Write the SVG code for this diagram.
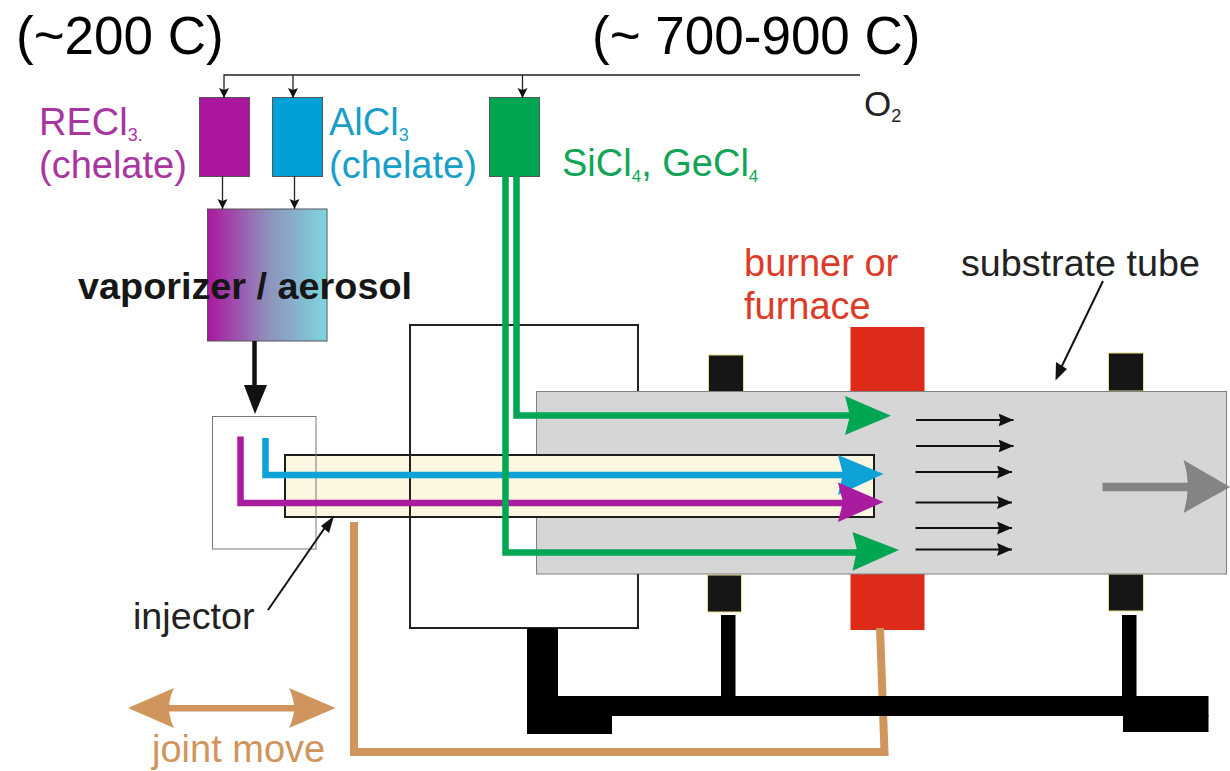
<svg xmlns="http://www.w3.org/2000/svg" width="1230" height="771" viewBox="0 0 1230 771">
<style>
text{font-family:"Liberation Sans",Arial,sans-serif}
.thin{fill:none;stroke:#222;stroke-width:1.3}
.flow{fill:none;stroke:#111;stroke-width:1.8}
.sq{fill:#161616;stroke:#e8e08a;stroke-width:1}
.blk{fill:#000}
.pipe{fill:none;stroke-width:6.5;stroke-linejoin:miter}
.green{stroke:#00a651}.gf{fill:#00a651}
.blue{stroke:#0ea2d6}.bf{fill:#0ea2d6}
.purple{stroke:#a91b9f}.pf{fill:#a91b9f}
.tan{stroke:#cf955c}
.red{fill:#de2a18}
</style>
<defs>
<linearGradient id="g"><stop offset="0" stop-color="#ab169f"/><stop offset=".5" stop-color="#8e90bb"/><stop offset="1" stop-color="#7dd6df"/></linearGradient>
<marker id="a" markerUnits="userSpaceOnUse" markerWidth="12" markerHeight="12" refX="10" refY="5" orient="auto"><path d="M0 0L10 5L0 10L2 5Z" fill="#111"/></marker>
<marker id="f" markerUnits="userSpaceOnUse" markerWidth="16" markerHeight="14" refX="15" refY="6.5" orient="auto"><path d="M0 0L15 6.5L0 13L2 6.5Z" fill="#111"/></marker>
</defs>
<g id="furnace"><rect class="red" x="850.5" y="327" width="74" height="65"/><rect class="red" x="850.5" y="573" width="74" height="57"/></g>
<g id="supports">
<rect class="sq" x="708.500" y="355" width="35" height="37"/><rect class="sq" x="707.500" y="575" width="34" height="37"/>
<rect class="sq" x="1108.500" y="353" width="35" height="38"/><rect class="sq" x="1108.500" y="574" width="35" height="37"/>
</g>
<g id="tube"><rect x="536.500" y="391.500" width="690" height="182.500" fill="#d6d6d6" stroke="#808080" stroke-width="1"/></g>
<g id="injector"><rect x="285" y="455" width="589" height="62" fill="#fdf6e0" stroke="#1d1d1b" stroke-width="2"/></g>
<g id="injector-box"><rect x="212.500" y="416.500" width="103.500" height="132.500" fill="none" stroke="#777" stroke-width="1"/></g>
<g id="chamber"><path d="M536 628H410V325H638V391M638 574V628H536" fill="none" stroke="#222" stroke-width="2"/></g>
<g id="stage" class="blk">
<path class="tan" d="M880 628L884.500 752H354V522" fill="none" stroke-width="8"/>
<rect x="527" y="628" width="31" height="90"/><rect x="558" y="696" width="650.500" height="20"/>
<rect x="527" y="716" width="85" height="18"/><rect x="1123" y="715" width="85.500" height="17"/>
<rect x="721" y="615" width="14.500" height="82"/><rect x="1122" y="615" width="14.500" height="82"/>
</g>
<g id="source-re"><rect x="199.500" y="97.500" width="50" height="79" fill="#ab169f" stroke="#555" stroke-width="1"/></g>
<g id="source-al"><rect x="272.500" y="97.500" width="50" height="79" fill="#00a1d8" stroke="#555" stroke-width="1"/></g>
<g id="source-si"><rect x="489.500" y="97.500" width="50" height="79" fill="#00a651" stroke="#555" stroke-width="1"/></g>
<g id="vaporizer"><rect x="207.500" y="209" width="119.500" height="132" fill="url(#g)" stroke="#555" stroke-width="1"/>
<text x="78" y="298.500" font-size="37.800" font-weight="700" fill="#161616">vaporizer / aerosol</text></g>
<g id="connectors">
<path d="M860 75H224V98" class="thin" marker-end="url(#a)"/>
<path d="M293 75V98" class="thin" marker-end="url(#a)"/>
<path d="M522.500 75V98" class="thin" marker-end="url(#a)"/>
<path d="M222.500 176V209" class="thin" marker-end="url(#a)"/>
<path d="M294.500 176V209" class="thin" marker-end="url(#a)"/>
<path d="M254.500 341V392" fill="none" stroke="#111" stroke-width="4.500"/><path d="M244 385H267L255 414Z" fill="#111"/>
<path d="M265.500 438V475H845" class="pipe blue"/><path class="bf" d="M838 455L883.500 474L838 495L843 474Z"/>
<path d="M240.500 436.500V503H845" class="pipe purple"/><path class="pf" d="M838 482.500L883.500 502L838 522L843 502Z"/>
<path d="M516.500 176V415.500H852" class="pipe green"/><path class="gf" d="M845 396L891 415.700L845 435L850 415.700Z"/>
<path d="M505.500 176V552.500H860" class="pipe green"/><path class="gf" d="M852.500 532L899 550L852.500 570.700L857 550Z"/>
<path d="M916 420H1013.500" class="flow" marker-end="url(#f)"/><path d="M916 446H1013.500" class="flow" marker-end="url(#f)"/>
<path d="M915.500 472H1012" class="flow" marker-end="url(#f)"/><path d="M915.500 502.500H1012" class="flow" marker-end="url(#f)"/>
<path d="M915.500 528H1012" class="flow" marker-end="url(#f)"/><path d="M915.500 549.500H1012" class="flow" marker-end="url(#f)"/>
<path d="M1102.500 487H1192" fill="none" stroke="#848484" stroke-width="8.500"/><path d="M1183.500 460Q1192 487 1183.500 513L1230 487Z" fill="#848484"/>
<path d="M1103 281L1060 370" fill="none" stroke="#111" stroke-width="2"/><path d="M1055.500 380.500L1056 362L1067 369Z" fill="#111"/>
<path d="M268 610L326 526" fill="none" stroke="#111" stroke-width="2"/><path d="M334 516L329 533L321 526Z" fill="#111"/>
<path d="M165 708.300H298" fill="none" stroke="#cf955c" stroke-width="6.500"/><path d="M128 708L174 688Q164 708 174 728ZM335.500 708L289 688Q299 708 289 728Z" fill="#cf955c"/>
</g>
<g id="labels">
<text x="16" y="54" font-size="53" fill="#000">(~200 C)</text>
<text x="592" y="54" font-size="53" fill="#000">(~ 700-900 C)</text>
<text x="864" y="116" font-size="35" fill="#222">O<tspan font-size="18" dy="6">2</tspan></text>
<text x="39" y="135" font-size="38" fill="#a9359f">RECl<tspan font-size="18" dy="6">3.</tspan></text>
<text x="39" y="178" font-size="38" fill="#a9359f">(chelate)</text>
<text x="329" y="135" font-size="38" fill="#189fc9">AlCl<tspan font-size="18" dy="6">3</tspan></text>
<text x="329" y="178" font-size="38" fill="#189fc9">(chelate)</text>
<text x="562" y="176" font-size="38" fill="#12a457">SiCl<tspan font-size="17" dy="6">4</tspan><tspan dy="-6">, GeCl</tspan><tspan font-size="17" dy="6">4</tspan></text>
<text x="744" y="276" font-size="38" fill="#de3a28">burner or</text>
<text x="744" y="319" font-size="38" fill="#de3a28">furnace</text>
<text x="961" y="276" font-size="37.700" fill="#222">substrate tube</text>
<text x="133" y="629" font-size="37.700" fill="#222">injector</text>
<text x="152" y="762" font-size="38" fill="#cf955c">joint move</text>
</g>
</svg>
